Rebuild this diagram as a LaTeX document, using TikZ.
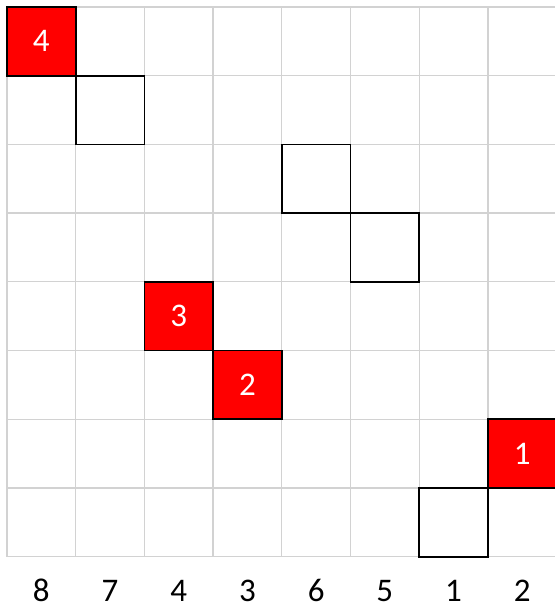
\documentclass[tikz,border=0pt]{standalone}
\usepackage{fontspec}
\setmainfont{Carlito}
\begin{document}
\begin{tikzpicture}[x=1pt,y=-1pt,
  gridline/.style={draw={rgb,255:red,210;green,210;blue,210},line width=1.3pt},
  cellbox/.style={draw=black,line width=1.8pt,minimum width=68.7pt,minimum height=68.7pt,inner sep=0pt,outer sep=0pt,font=\fontsize{33}{34}\selectfont},
  redbox/.style={cellbox,fill={rgb,255:red,255;green,0;blue,0},text=white},
  emptybox/.style={cellbox,fill=white},
  collabel/.style={font=\fontsize{33}{34}\selectfont,text=black,inner sep=0pt,anchor=base}]
\useasboundingbox (0,0) rectangle (555,606);
\fill[white] (0,0) rectangle (555,606);
\def\cw{68.7}
% grid
\foreach \i in {0,...,8} {
  \draw[gridline] ({7+\cw*\i},7) -- ({7+\cw*\i},556.6);
  \draw[gridline] (7,{7+\cw*\i}) -- (560,{7+\cw*\i});
}
% boxes (center = 7 + cw*(k+0.5))
\node[redbox]   (r4) at ({7+\cw*0.5},{7+\cw*0.5}) {4};
\node[emptybox] (e1) at ({7+\cw*1.5},{7+\cw*1.5}) {};
\node[emptybox] (e2) at ({7+\cw*4.5},{7+\cw*2.5}) {};
\node[emptybox] (e3) at ({7+\cw*5.5},{7+\cw*3.5}) {};
\node[redbox]   (r3) at ({7+\cw*2.5},{7+\cw*4.5}) {3};
\node[redbox]   (r2) at ({7+\cw*3.5},{7+\cw*5.5}) {2};
\node[redbox]   (r1) at ({7+\cw*7.5},{7+\cw*6.5}) {1};
\node[emptybox] (e4) at ({7+\cw*6.5},{7+\cw*7.5}) {};
% column labels
\foreach \lab [count=\k from 0] in {8,7,4,3,6,5,1,2} {
  \node[collabel] (c\k) at ({7+\cw*(\k+0.5)},601.5) {\lab};
}
\end{tikzpicture}
\end{document}
